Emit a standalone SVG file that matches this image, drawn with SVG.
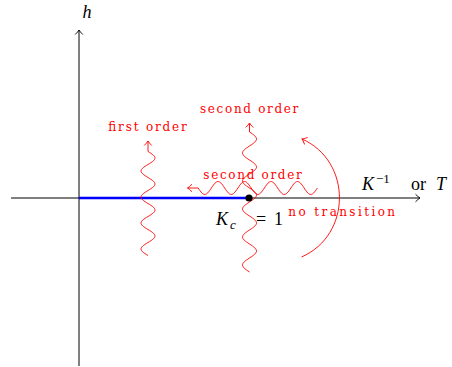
<svg xmlns="http://www.w3.org/2000/svg" width="452" height="367" viewBox="0 0 452 367">
<style>
.ax{fill:none;stroke:#000;stroke-width:1}
.wv{fill:none;stroke:#ff0000;stroke-width:0.9}
.lbl{font-family:"DejaVu Serif",serif;font-size:12px;fill:#ff0000}
.m{font-family:"Liberation Serif",serif;font-size:18px;fill:#000}
.i{font-style:italic}
</style>
<defs>
<marker id="ak" viewBox="-6 -5 7 10" markerWidth="7" markerHeight="10" refX="0" refY="0" orient="auto" markerUnits="userSpaceOnUse">
<path d="M-4.5,-3.8 Q-1.8,-1 0,0 Q-1.8,1 -4.5,3.8" fill="none" stroke="#000" stroke-width="0.9"/>
</marker>
<marker id="ar" viewBox="-6 -5 7 10" markerWidth="7" markerHeight="10" refX="0" refY="0" orient="auto" markerUnits="userSpaceOnUse">
<path d="M-4.5,-3.8 Q-1.8,-1 0,0 Q-1.8,1 -4.5,3.8" fill="none" stroke="#ff0000" stroke-width="0.9"/>
</marker>
</defs>
<rect width="452" height="367" fill="#fff"/>
<g id="connectors">
<path class="ax" d="M11,198 H420" marker-end="url(#ak)"/>
<path class="ax" d="M79,366 V30" marker-end="url(#ak)"/>
<path d="M79,198 H249" fill="none" stroke="#0000ff" stroke-width="2.4"/>
<path id="first-order" class="wv" marker-end="url(#ar)" d="M148,255.5 C138.67,250 138.67,248 148,242.5 S157.33,235 148,229.5 S138.67,222 148,216.5 S157.33,209 148,203.5 S138.67,196 148,190.5 S157.33,183 148,177.5 S138.67,170 148,164.5 S157.33,157 148,151.5 L148,141"/>
<path id="second-order-v" class="wv" marker-end="url(#ar)" d="M249.5,272 C240.17,266.06 240.17,263.94 249.5,258 S258.83,249.94 249.5,244 S240.17,235.94 249.5,230 S258.83,221.94 249.5,216 S240.17,207.94 249.5,202 S258.83,193.94 249.5,188 S240.17,179.94 249.5,174 S258.83,165.94 249.5,160 S240.17,151.94 249.5,146 S258.83,137.94 249.5,132 L249.5,123"/>
<path id="second-order-h" class="wv" marker-end="url(#ar)" d="M317.4,188 C311.78,196.67 309.77,196.67 304.15,188 S296.53,179.33 290.9,188 S283.28,196.67 277.65,188 S270.03,179.33 264.4,188 S256.78,196.67 251.15,188 S243.53,179.33 237.9,188 S230.28,196.67 224.65,188 S217.03,179.33 211.4,188 S203.78,196.67 198.15,188 L187.5,188"/>
<path id="no-transition" class="wv" marker-end="url(#ar)" d="M301.5,257 C352,235 352,161 302,139"/>
</g>
<g id="critical-point">
<circle cx="249" cy="198" r="3.6" fill="#000"/>
<text class="m" y="225"><tspan class="i" x="216">K</tspan><tspan class="i" font-size="13" x="230" dy="3.5">c</tspan><tspan x="256" dy="-3.5">=</tspan><tspan x="274">1</tspan></text>
</g>
<g id="axis-labels">
<text class="m i" x="82.5" y="18" font-size="17">h</text>
<text class="m" y="190"><tspan class="i" x="362">K</tspan><tspan font-size="13" x="376" dy="-7">−1</tspan><tspan x="411" dy="7">or</tspan><tspan class="i" x="436">T</tspan></text>
</g>
<g id="labels">
<text class="lbl" x="108.3" y="131" textLength="78.4" lengthAdjust="spacing">first order</text>
<text class="lbl" x="200" y="113" textLength="98.3" lengthAdjust="spacing">second order</text>
<text class="lbl" x="203.3" y="178.5" textLength="98.4" lengthAdjust="spacing">second order</text>
<text class="lbl" x="288.3" y="216.3" textLength="106.7" lengthAdjust="spacing">no transition</text>
</g>
</svg>
